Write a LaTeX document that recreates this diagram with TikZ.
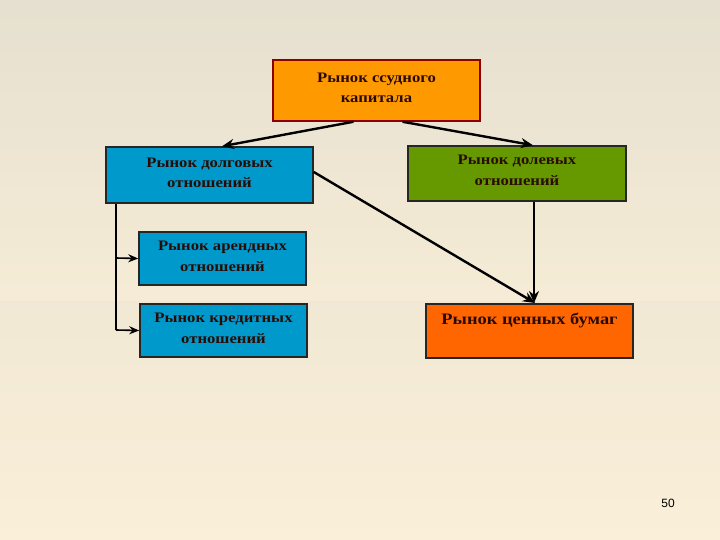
\documentclass[tikz,border=0pt]{standalone}
\usepackage{fontspec}
\setmainfont{Liberation Serif}
\newfontfamily\boxfont[FakeStretch=1.15]{Liberation Serif}
\newfontfamily\numfont{Liberation Sans}
\usetikzlibrary{arrows.meta}
\definecolor{bgA}{HTML}{E6E0D0}
\definecolor{bgB}{HTML}{FAEFD8}
\definecolor{orangeA}{HTML}{FF9900}
\definecolor{orangeB}{HTML}{FF6600}
\definecolor{blueA}{HTML}{0099CC}
\definecolor{greenA}{HTML}{669900}
\definecolor{txt}{HTML}{2A0C04}
\tikzset{
  box/.style={draw=black!85, line width=1.5pt, minimum width=#1, align=center, font=\boxfont\fontsize{14.5}{20.5}\selectfont\bfseries, text=txt, inner sep=0pt},
  arr/.style={line width=2.4pt, -{Stealth[length=12pt,width=10pt]}},
  sarr/.style={line width=1.6pt, -{Stealth[length=10pt,width=8pt]}}
}
\begin{document}
\begin{tikzpicture}[x=1pt,y=-1pt]
\shade[left color=bgA, right color=bgB, shading angle=0] (0,0) rectangle (720,540);
\shade[top color=bgA, bottom color=bgB, opacity=0.5] (0,0) rectangle (720,300);
\useasboundingbox (0,0) rectangle (720,540);
\node[box=207pt, minimum height=61pt, fill=orangeA, draw=red!55!black] (top) at (376.5,90.5) {Рынок ссудного\\капитала\rule[-5pt]{0pt}{0pt}};
\node[box=207pt, minimum height=56pt, fill=blueA] (debt) at (209.5,175) {Рынок долговых\\отношений\rule[-4pt]{0pt}{0pt}};
\node[box=218pt, minimum height=55pt, fill=greenA] (eq) at (517,173.5) {Рынок долевых\\отношений\rule[-6pt]{0pt}{0pt}};
\node[box=167pt, minimum height=53pt, fill=blueA] (lease) at (222.5,258.5) {Рынок арендных\\отношений\rule[-4pt]{0pt}{0pt}};
\node[box=167pt, minimum height=53pt, fill=blueA] (cred) at (223.5,330.5) {Рынок кредитных\\отношений\rule[-4pt]{0pt}{0pt}};
\node[box=207pt, minimum height=54pt, fill=orangeB, font=\boxfont\fontsize{16}{19}\selectfont\bfseries, anchor=north, text depth=30pt, text height=17pt] (sec) at (529.5,303) {Рынок ценных бумаг};
\draw[arr] (top.south) ++(-23,0) coordinate (t1) -- (debt.north -| 222,0);
\draw[arr] (top.south) ++(26,0) coordinate (t2) -- (eq.north -| 533,0);
\draw[arr] (debt.east) ++(0,-3) -- (sec.north -| 535,0);
\draw[arr] (eq.south -| 534,0) -- (sec.north -| 534,0);
\draw[line width=1.6pt] (debt.south -| 116,0) -- (116,330);
\draw[sarr] (116,258) -- (lease.west);
\draw[sarr] (116,330) -- (cred.west);
\node[font=\numfont\fontsize{12}{14}\selectfont] (num) at (668,503) {50};
\end{tikzpicture}
\end{document}
